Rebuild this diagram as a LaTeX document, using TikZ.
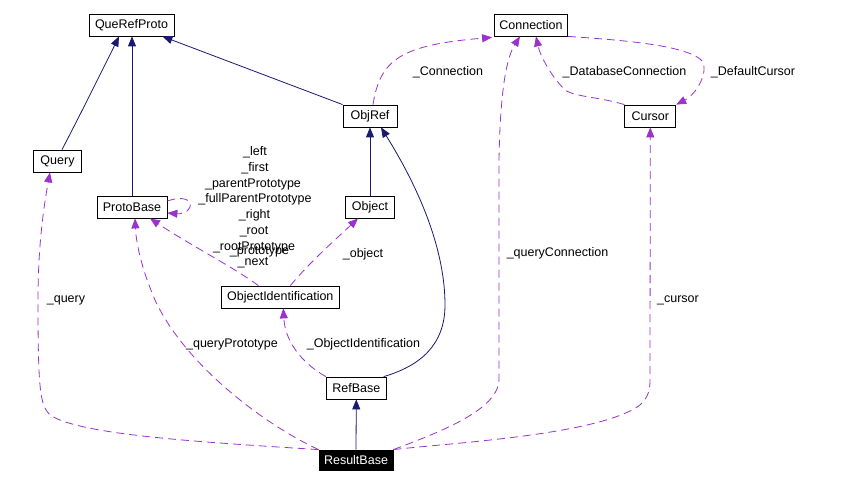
\documentclass[tikz,border=0pt]{standalone}
\usepackage{fontspec}
\setmainfont{Liberation Sans}
\usetikzlibrary{arrows.meta,calc}
\definecolor{navy}{RGB}{25,25,112}
\definecolor{orchid}{RGB}{154,50,205}
\begin{document}
\begin{tikzpicture}[x=1pt,y=-1pt,
  cls/.style={draw=black, line width=0.8pt, inner sep=0pt, minimum height=22pt, font=\fontsize{12.5}{15}\selectfont},
  inh/.style={draw=navy, line width=0.8pt, -{Triangle[length=10pt,width=8pt]}},
  use/.style={draw=orchid, line width=0.8pt, dash pattern=on 8pt off 5pt, -{Triangle[length=10pt,width=8pt]}},
  lbl/.style={font=\fontsize{12.5}{15}\selectfont, inner sep=0pt, anchor=base}]
\path[use as bounding box, fill=white] (0,0) rectangle (857,484);

% classes
\node[cls, minimum width=85pt] (QueRefProto) at (131.5,25) {QueRefProto};
\node[cls, minimum width=73pt] (Connection) at (531,25) {Connection};
\node[cls, minimum width=54pt] (ObjRef) at (370,116) {ObjRef};
\node[cls, minimum width=51pt] (Cursor) at (650.3,116) {Cursor};
\node[cls, minimum width=48pt] (Query) at (57.5,161) {Query};
\node[cls, minimum width=70pt] (ProtoBase) at (132,207) {ProtoBase};
\node[cls, minimum width=49pt] (Object) at (370,207) {Object};
\node[cls, minimum width=118pt] (ObjectIdentification) at (280.3,297) {ObjectIdentification};
\node[cls, minimum width=60pt] (RefBase) at (356.3,388) {RefBase};
\node[cls, minimum width=74pt, minimum height=20pt, fill=black, text=white] (ResultBase) at (356,460) {ResultBase};

% inheritance
\draw[inh] ($(Query.north)+(4.5,0)$) .. controls (75,125) and (105,65) .. ($(QueRefProto.south)+(-12.5,0)$);
\draw[inh] (ProtoBase.north) -- (ProtoBase.north |- QueRefProto.south);
\draw[inh] (ObjRef.north west) -- ($(QueRefProto.south east)+(-12,0)$);
\draw[inh] (Object.north) -- (ObjRef.south);
\draw[inh] ($(RefBase.north east)+(-3,0)$) .. controls (420,366) and (445,345) .. (445,305) .. controls (445,250) and (420,190) .. ($(ObjRef.south)+(11,0)$);
\draw[inh] (ResultBase.north) -- (RefBase.south);

% usage
\draw[use] ($(ObjRef.north)+(3,0)$) .. controls (380,60) and (400,45) .. ($(Connection.south west)+(-2,1)$);
\draw[use] (Cursor.north west) .. controls (600,97) and (575,97) .. (565,90) .. controls (550,75) and (540,55) .. ($(Connection.south)+(5,0)$);
\draw[use] (Connection.south east) .. controls (620,40) and (690,45) .. (703,62) .. controls (708,75) and (695,95) .. (Cursor.north east);
\draw[use] (ResultBase.north west) .. controls (200,442) and (80,435) .. (50,415) .. controls (40,405) and (38,390) .. (38,300) .. controls (38,240) and (45,200) .. ($(Query.south)+(-7.5,0)$);
\draw[use] (ResultBase.north west) .. controls (265,425) and (185,365) .. (155,300) .. controls (140,265) and (136,240) .. ($(ProtoBase.south)+(3,0)$);
\draw[use] ($(ProtoBase.east)+(0,-6)$) .. controls (185,195) and (192,201) .. (190,207) .. controls (188,213) and (180,214) .. ($(ProtoBase.east)+(0,6)$);
\draw[use] ($(ObjectIdentification.north)+(-22,0)$) .. controls (235,268) and (190,245) .. ($(ProtoBase.south)+(18,0)$);
\draw[use] ($(ObjectIdentification.north)+(10,0)$) .. controls (310,262) and (335,240) .. ($(Object.south)+(-12,0)$);
\draw[use] (RefBase.north west) .. controls (300,362) and (285,340) .. ($(ObjectIdentification.south)+(3,0)$);
\draw[use] (ResultBase.north east) .. controls (440,432) and (498,410) .. (499,380) -- (499,160) .. controls (500,100) and (505,60) .. ($(Connection.south)+(-11,0)$);
\draw[use] (ResultBase.north east) .. controls (450,443) and (600,435) .. (640,405) .. controls (648,398) and (650,390) .. (650,380) -- (Cursor.south);

% labels
\node[lbl] (lConn) at (448,76) {\_Connection};
\node[lbl] (lDbConn) at (624.5,76) {\_DatabaseConnection};
\node[lbl] (lDefCur) at (753,76) {\_DefaultCursor};
\node[lbl] (lQConn) at (557.5,256) {\_queryConnection};
\node[lbl] (lCursor) at (678,302) {\_cursor};
\node[lbl] (lQuery) at (66,302) {\_query};
\node[lbl] (lQProto) at (232,347) {\_queryPrototype};
\node[lbl] (lObjId) at (363.5,347.5) {\_ObjectIdentification};
\node[lbl] (lObject) at (363,257) {\_object};
\node[lbl] (lLeft) at (255,156) {\_left};
\node[lbl] (lFirst) at (255,171.7) {\_first};
\node[lbl] (lParent) at (253,187.3) {\_parentPrototype};
\node[lbl] (lFull) at (255,203) {\_fullParentPrototype};
\node[lbl] (lRight) at (254.5,218.7) {\_right};
\node[lbl] (lRoot) at (254,234.3) {\_root};
\node[lbl] (lRootProto) at (254,250) {\_rootPrototype};
\node[lbl] (lProto) at (259.5,254) {\_prototype};
\node[lbl] (lNext) at (253,265.7) {\_next};
\end{tikzpicture}
\end{document}
